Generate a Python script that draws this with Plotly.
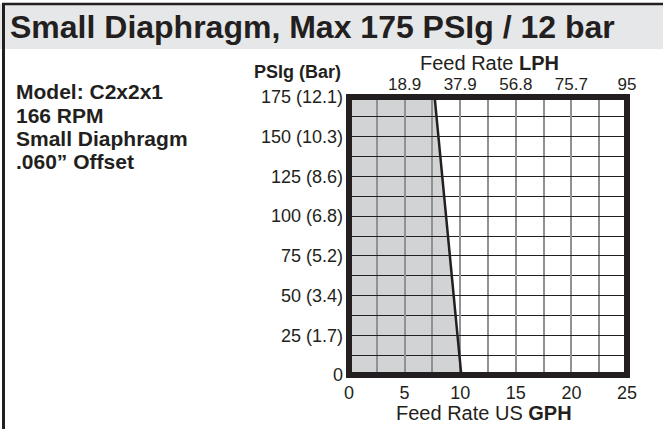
import plotly.graph_objects as go

# ---- data ----
psi_points = [175, 0]          # PSIg at the ends of the capacity line
gph_points = [7.7, 10.1]       # US GPH at those pressures
psi_ticks = [0, 25, 50, 75, 100, 125, 150, 175]
psi_labels = ["0", "25 (1.7)", "50 (3.4)", "75 (5.2)", "100 (6.8)", "125 (8.6)", "150 (10.3)", "175 (12.1)"]
gph_ticks = [0, 5, 10, 15, 20, 25]
lph_ticks = [5, 10, 15, 20, 25]
lph_labels = ["18.9", "37.9", "56.8", "75.7", "95"]
info_lines = ["Model: C2x2x1", "166 RPM", "Small Diaphragm", ".060\u201d Offset"]
title_text = "Small Diaphragm, Max 175 PSIg / 12 bar"

W, H = 663, 429
L, R, T, B = 349, 36, 97, 54
PW, PH = W - L - R, H - T - B

def px(x):
    return (x - L) / PW

def py(y):
    return (H - B - y) / PH

INK = "#231f20"
FONT = "Liberation Sans, Arial, Helvetica, sans-serif"

fig = go.Figure()

fig.add_trace(go.Scatter(x=gph_points, y=psi_points, mode="lines",
                         line=dict(color=INK, width=2.5), hoverinfo="skip",
                         showlegend=False))
# invisible trace to carry the top (LPH) axis
fig.add_trace(go.Scatter(x=lph_ticks, y=[psi_points[-1]] * len(lph_ticks), xaxis="x2",
                         mode="markers", marker=dict(opacity=0), hoverinfo="skip",
                         showlegend=False))

# shaded capacity area (below the grid)
xmin = gph_ticks[0]
path = (f"M {xmin},{psi_points[0]} L {gph_points[0]},{psi_points[0]} "
        f"L {gph_points[1]},{psi_points[1]} L {xmin},{psi_points[1]} Z")
shapes = [
    dict(type="path", path=path, xref="x", yref="y", fillcolor="#d1d3d4",
         line=dict(width=0), layer="below"),
    # frame
    dict(type="rect", xref="paper", yref="paper", x0=0, x1=1, y0=0, y1=1,
         line=dict(color=INK, width=6), layer="above"),
    # header band
    dict(type="rect", xref="paper", yref="paper", x0=px(0), x1=px(W), y0=py(49), y1=py(4),
         fillcolor="#e6e7e8", line=dict(width=0), layer="below"),
    # top border
    dict(type="line", xref="paper", yref="paper", x0=px(2), x1=px(W), y0=py(4), y1=py(4),
         line=dict(color=INK, width=2.5)),
    # left border
    dict(type="line", xref="paper", yref="paper", x0=px(3.5), x1=px(3.5), y0=py(3), y1=py(H),
         line=dict(color=INK, width=3)),
]

annotations = [
    dict(text=f"<b>{title_text}</b>", x=px(8), y=py(27), xref="paper", yref="paper",
         xanchor="left", yanchor="middle", showarrow=False,
         font=dict(family=FONT, size=32, color=INK)),
    dict(text="<b>PSIg (Bar)</b>", x=px(297), y=py(72), xref="paper", yref="paper",
         xanchor="center", yanchor="middle", showarrow=False,
         font=dict(family=FONT, size=18, color=INK)),
    dict(text="Feed Rate <b>LPH</b>", x=px(489), y=py(63), xref="paper", yref="paper",
         xanchor="center", yanchor="middle", showarrow=False,
         font=dict(family=FONT, size=20, color=INK)),
    dict(text="Feed Rate US <b>GPH</b>", x=px(484), y=py(413), xref="paper", yref="paper",
         xanchor="center", yanchor="middle", showarrow=False,
         font=dict(family=FONT, size=20, color=INK)),
]
for i, line in enumerate(info_lines):
    annotations.append(dict(text=f"<b>{line}</b>", x=px(14), y=py(92 + 23 * i),
                            xref="paper", yref="paper", xanchor="left", yanchor="middle",
                            showarrow=False, font=dict(family=FONT, size=21, color=INK)))

fig.update_layout(
    width=W, height=H,
    margin=dict(l=L, r=R, t=T, b=B, pad=0),
    paper_bgcolor="white", plot_bgcolor="white",
    shapes=shapes, annotations=annotations,
    showlegend=False,
    xaxis=dict(range=[gph_ticks[0], gph_ticks[-1]], tickmode="array", tickvals=gph_ticks,
               showgrid=True, gridcolor="#8f9194", gridwidth=1.5,
               minor=dict(dtick=2.5, tick0=0, showgrid=True, gridcolor="#8f9194", gridwidth=1.5),
               zeroline=False, showline=False, ticks="", ticklabelstandoff=5,
               tickfont=dict(family=FONT, size=18, color=INK), fixedrange=True),
    xaxis2=dict(range=[gph_ticks[0], gph_ticks[-1]], overlaying="x", side="top",
                tickmode="array", tickvals=lph_ticks, ticktext=lph_labels,
                showgrid=False, zeroline=False, showline=False, ticks="", ticklabelstandoff=3,
                tickfont=dict(family=FONT, size=17, color=INK), fixedrange=True),
    yaxis=dict(range=[psi_ticks[0], psi_ticks[-1]], tickmode="array", tickvals=psi_ticks,
               ticktext=psi_labels, showgrid=True, gridcolor=INK, gridwidth=1.3,
               minor=dict(dtick=12.5, tick0=0, showgrid=True, gridcolor=INK, gridwidth=1.3),
               zeroline=False, showline=False, ticks="", ticklabelstandoff=5,
               tickfont=dict(family=FONT, size=18, color=INK), fixedrange=True),
)

fig.write_html("out.html", config={"displayModeBar": False},
               post_script="document.body.style.margin='0';document.body.style.overflow='hidden';")
